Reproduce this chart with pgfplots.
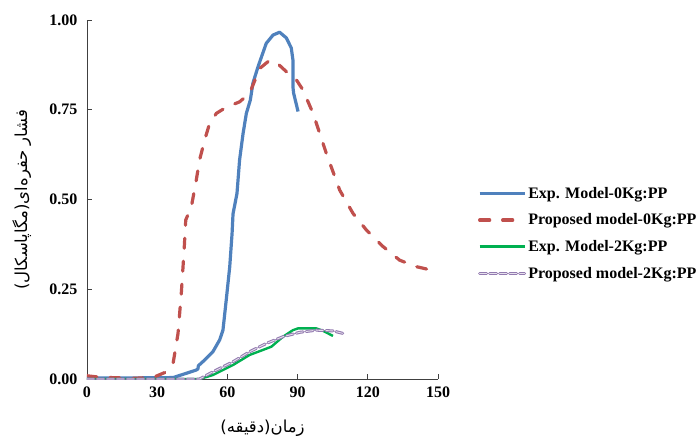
\documentclass[border=0pt]{standalone}
\usepackage{pgfplots}
\pgfplotsset{compat=1.18}
\usepackage{fontspec}
\setmainfont{Liberation Serif}
\newfontfamily\arabicfont[Script=Arabic]{DejaVu Sans}
\TeXXeTstate=1
\definecolor{cblue}{HTML}{4F81BD}
\definecolor{cred}{HTML}{C0504D}
\definecolor{cgreen}{HTML}{00B050}
\definecolor{cpurple}{HTML}{8064A2}
\begin{document}
\begin{tikzpicture}
\begin{axis}[
  scale only axis, width=351pt, height=359pt,
  xmin=0, xmax=150, ymin=0, ymax=1,
  xtick={0,30,60,90,120,150},
  ytick={0,0.25,0.5,0.75,1},
  axis x line*=bottom, axis y line*=left,
  tick align=inside, major tick length=5pt,
  axis line style={draw=black!75, line width=0.8pt},
  tick style={draw=black!75, line width=0.8pt},
  /pgf/number format/assume math mode=true,
  ticklabel style={font=\bfseries\fontsize{16}{18}\selectfont},
  yticklabel style={xshift=-6pt, /pgf/number format/.cd, fixed, fixed zerofill, precision=2},
  xticklabel style={yshift=-4pt},
  xlabel={\arabicfont\beginR زمان(دقیقه)\endR},
  ylabel={\arabicfont\beginR فشار حفره‌ای(مگاپاسکال)\endR},
  every axis x label/.style={at={(axis description cs:0.5,-0.137)}, anchor=center},
  every axis y label/.style={at={(axis description cs:-0.186,0.5)}, rotate=90, anchor=center},
  label style={font=\fontsize{16.5}{18}\selectfont},
  legend style={at={(1.105,0.546)}, anchor=north west, draw=none, fill=none,
    font=\bfseries\fontsize{16}{18}\selectfont, row sep=10pt,
    legend cell align=left},
  legend image code/.code={\draw[#1] (0pt,0pt) -- (45pt,0pt);},
]
\addplot[cblue, line width=3.2pt, line join=round] coordinates {
(0,0.003) (20,0.003) (36.8,0.004) (42.5,0.016) (46.7,0.025) (47.4,0.028) (47.6,0.037)
(50.3,0.053) (53.8,0.076) (56.7,0.109) (58.1,0.136) (59.5,0.22) (61,0.313)
(62,0.406) (62.4,0.46) (64.1,0.517) (65.2,0.61) (66.7,0.684) (68.1,0.74)
(69.8,0.777) (70.9,0.824) (73.1,0.87) (76.6,0.935) (79.5,0.958) (82.3,0.966)
(85.2,0.95) (87.3,0.922) (88,0.889) (88,0.814) (88.3,0.796) (90.2,0.745)
};
\addlegendentry{Exp. Model-0Kg:PP}
\addplot[cred, line width=3.2pt, line cap=round, dash pattern=on 10pt off 13pt] coordinates {
(0,0.009) (5.4,0.005) (19.7,0.002) (28.2,0.004) (33.2,0.018) (36.8,0.044)
(38.9,0.127) (40.3,0.239) (41.5,0.359) (42.2,0.443) (44.6,0.48) (46.7,0.554)
(48.1,0.61) (50.3,0.666) (52.4,0.712) (55.3,0.74) (59.5,0.757) (65.2,0.772)
(69.5,0.796) (73.8,0.865) (78.1,0.888) (80.9,0.882) (85.2,0.856) (89.5,0.833)
(92.3,0.805) (96.6,0.74) (102.3,0.628) (108,0.526) (113.7,0.461) (119.4,0.415)
(126.5,0.369) (133.6,0.331) (140.7,0.313) (150,0.299)
};
\addlegendentry{Proposed model-0Kg:PP}
\addplot[cgreen, line width=2.4pt] coordinates {
(0,0) (48.1,0) (53.8,0.011) (62.4,0.039) (69.5,0.067) (75.2,0.081) (78.8,0.09)
(83.8,0.118) (88,0.136) (90.2,0.141) (98,0.141) (100.9,0.134) (105.1,0.12)
};
\addlegendentry{Exp. Model-2Kg:PP}
\addplot[cpurple!85, line width=3pt, dash pattern=on 7pt off 3pt, line cap=round,
  postaction={draw=cpurple!20, line width=0.9pt}] coordinates {
(0,0) (48.1,0) (53.8,0.02) (62.4,0.048) (69.5,0.076) (76.6,0.099) (83.8,0.118)
(90.9,0.13) (98,0.136) (105.1,0.134) (109.4,0.127)
};
\addlegendentry{Proposed model-2Kg:PP}
\end{axis}
\pgfresetboundingbox
\path ([shift={(-87pt,-60pt)}]current axis.south west) rectangle ([shift={(262pt,20pt)}]current axis.north east);
\end{tikzpicture}
\end{document}
